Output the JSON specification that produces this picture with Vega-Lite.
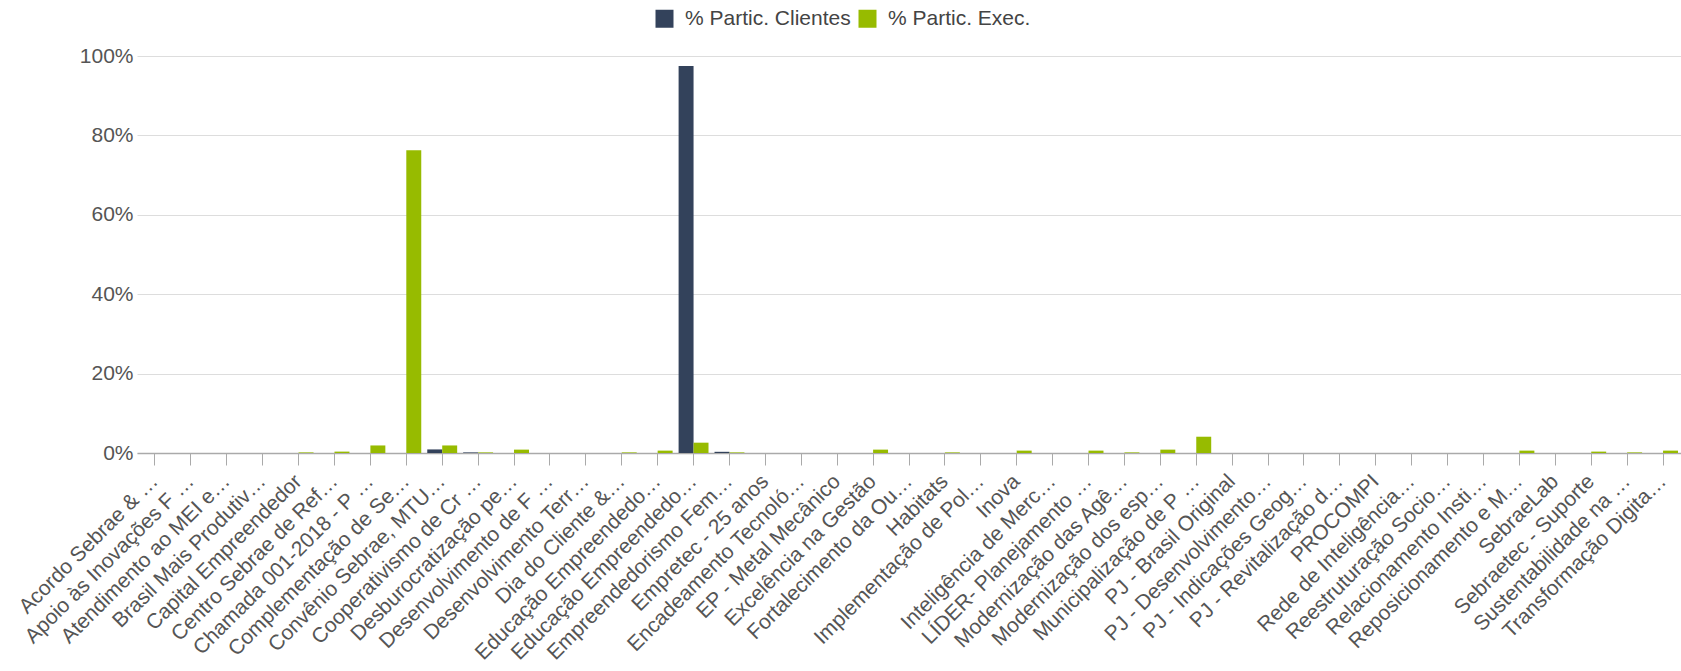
{
  "$schema": "https://vega.github.io/schema/vega-lite/v6.json",
  "width": 1544,
  "height": 397,
  "autosize": {"type": "none"},
  "padding": {"left": 137, "top": 56, "right": 0, "bottom": 218},
  "background": "white",
  "data": {
    "values": [
      {"cat": "Acordo Sebrae & …", "clientes": 0, "exec": 0},
      {"cat": "Apoio às Inovações F …", "clientes": 0, "exec": 0},
      {"cat": "Atendimento ao MEI e…", "clientes": 0, "exec": 0},
      {"cat": "Brasil Mais Produtiv…", "clientes": 0, "exec": 0},
      {"cat": "Capital Empreendedor", "clientes": 0, "exec": 0.0015},
      {"cat": "Centro Sebrae de Ref…", "clientes": 0, "exec": 0.0035},
      {"cat": "Chamada 001-2018 - P …", "clientes": 0, "exec": 0.019},
      {"cat": "Complementação de Se…", "clientes": 0, "exec": 0.7625},
      {"cat": "Convênio Sebrae, MTU…", "clientes": 0.009, "exec": 0.019},
      {"cat": "Cooperativismo de Cr …", "clientes": 0.0015, "exec": 0.0015},
      {"cat": "Desburocratização pe…", "clientes": 0, "exec": 0.0085},
      {"cat": "Desenvolvimento de F …", "clientes": 0, "exec": 0},
      {"cat": "Desenvolvimento Terr…", "clientes": 0, "exec": 0},
      {"cat": "Dia do Cliente &…", "clientes": 0, "exec": 0.0015},
      {"cat": "Educação Empreendedo…", "clientes": 0, "exec": 0.006},
      {"cat": "Educação Empreendedo… ", "clientes": 0.975, "exec": 0.026},
      {"cat": "Empreendedorismo Fem…", "clientes": 0.003, "exec": 0.0015},
      {"cat": "Empretec - 25 anos", "clientes": 0, "exec": 0},
      {"cat": "Encadeamento Tecnoló…", "clientes": 0, "exec": 0},
      {"cat": "EP - Metal Mecânico", "clientes": 0, "exec": 0},
      {"cat": "Excelência na Gestão", "clientes": 0, "exec": 0.0085},
      {"cat": "Fortalecimento da Ou…", "clientes": 0, "exec": 0},
      {"cat": "Habitats", "clientes": 0, "exec": 0.0015},
      {"cat": "Implementação de Pol…", "clientes": 0, "exec": 0},
      {"cat": "Inova", "clientes": 0, "exec": 0.006},
      {"cat": "Inteligência de Merc…", "clientes": 0, "exec": 0},
      {"cat": "LÍDER- Planejamento …", "clientes": 0, "exec": 0.006},
      {"cat": "Modernização das Agê…", "clientes": 0, "exec": 0.0015},
      {"cat": "Modernização dos esp…", "clientes": 0, "exec": 0.0085},
      {"cat": "Municipalização de P …", "clientes": 0, "exec": 0.041},
      {"cat": "PJ - Brasil Original", "clientes": 0, "exec": 0},
      {"cat": "PJ - Desenvolvimento…", "clientes": 0, "exec": 0},
      {"cat": "PJ - Indicações Geog…", "clientes": 0, "exec": 0},
      {"cat": "PJ - Revitalização d…", "clientes": 0, "exec": 0},
      {"cat": "PROCOMPI", "clientes": 0, "exec": 0},
      {"cat": "Rede de Inteligência…", "clientes": 0, "exec": 0},
      {"cat": "Reestruturação Socio…", "clientes": 0, "exec": 0},
      {"cat": "Relacionamento Insti…", "clientes": 0, "exec": 0},
      {"cat": "Reposicionamento e M…", "clientes": 0, "exec": 0.006},
      {"cat": "SebraeLab", "clientes": 0, "exec": 0},
      {"cat": "Sebraetec - Suporte", "clientes": 0, "exec": 0.0035},
      {"cat": "Sustentabilidade na …", "clientes": 0, "exec": 0.0015},
      {"cat": "Transformação Digita…", "clientes": 0, "exec": 0.006}
    ]
  },
  "transform": [{"fold": ["clientes", "exec"], "as": ["serie", "valor"]}],
  "mark": {"type": "bar"},
  "encoding": {
    "x": {
      "field": "cat",
      "type": "nominal",
      "sort": null,
      "title": null,
      "scale": {"paddingInner": 0.167, "paddingOuter": 0.0835},
      "axis": {
        "labelAngle": -45,
        "labelAlign": "right",
        "labelBaseline": "middle",
        "labelFontSize": 21,
        "labelFont": "Liberation Sans",
        "labelColor": "#555555",
        "labelLimit": 400,
        "labelPadding": 13,
        "labelDy": 4,
        "labelOverlap": false,
        "tickSize": 12,
        "tickColor": "#aaaaaa",
        "domainColor": "#aaaaaa",
        "domainWidth": 1.5,
        "grid": false
      }
    },
    "xOffset": {
      "field": "serie",
      "type": "nominal",
      "sort": ["clientes", "exec"],
      "scale": {"paddingInner": 0, "paddingOuter": 0}
    },
    "y": {
      "field": "valor",
      "type": "quantitative",
      "scale": {"domain": [0, 1], "nice": false},
      "axis": {
        "format": ".0%",
        "values": [0, 0.2, 0.4, 0.6, 0.8, 1],
        "title": null,
        "domain": false,
        "ticks": false,
        "labelFontSize": 21,
        "labelFont": "Liberation Sans",
        "labelColor": "#555555",
        "labelPadding": 4,
        "gridColor": "#dddddd"
      }
    },
    "color": {
      "field": "serie",
      "type": "nominal",
      "scale": {"domain": ["clientes", "exec"], "range": ["#33425b", "#97bb00"]},
      "legend": {
        "orient": "none",
        "legendX": 517,
        "legendY": -48,
        "direction": "horizontal",
        "title": null,
        "symbolType": "square",
        "symbolSize": 324,
        "symbolStrokeWidth": 0,
        "labelFontSize": 21,
        "labelFont": "Liberation Sans",
        "labelColor": "#444444",
        "labelLimit": 400,
        "labelOffset": 10,
        "columnPadding": 6,
        "labelExpr": "datum.label == 'clientes' ? '% Partic. Clientes' : '% Partic. Exec.'"
      }
    }
  },
  "config": {"view": {"stroke": null}}
}
